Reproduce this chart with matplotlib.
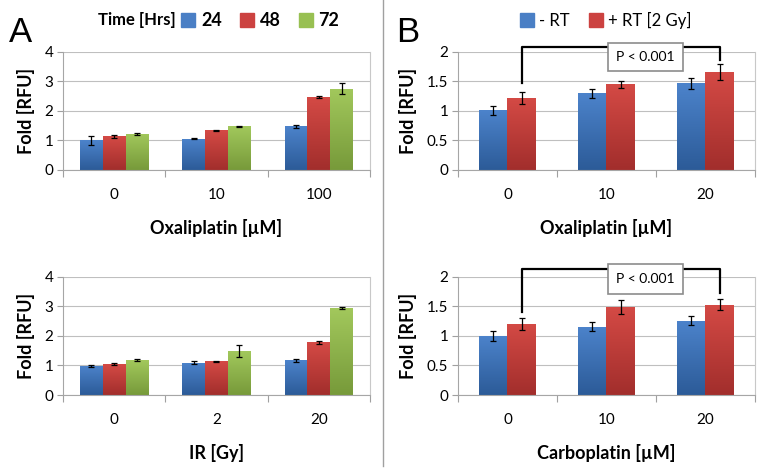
import numpy as np
import matplotlib
matplotlib.use("Agg")
import matplotlib.pyplot as plt
from matplotlib.colors import LinearSegmentedColormap
from matplotlib.lines import Line2D
from matplotlib.patches import Rectangle

plt.rcParams['font.family'] = ['Lato', 'DejaVu Sans']

# Panel A data (time series 24/48/72 h)
time_labels = ['24', '48', '72']
oxa_doses = ['0', '10', '100']
oxa_vals = [[1.00, 1.06, 1.48],
            [1.14, 1.35, 2.47],
            [1.23, 1.48, 2.76]]
oxa_errs = [[0.15, 0.02, 0.04],
            [0.05, 0.02, 0.04],
            [0.03, 0.02, 0.19]]
ir_doses = ['0', '2', '20']
ir_vals = [[0.99, 1.10, 1.17],
           [1.04, 1.14, 1.78],
           [1.18, 1.49, 2.94]]
ir_errs = [[0.04, 0.04, 0.04],
           [0.03, 0.02, 0.04],
           [0.04, 0.19, 0.04]]

# Panel B data (-RT / +RT)
rt_labels = ['- RT', '+ RT [2 Gy]']
oxa2_doses = ['0', '10', '20']
oxa2_vals = [[1.01, 1.30, 1.47],
             [1.22, 1.45, 1.66]]
oxa2_errs = [[0.07, 0.08, 0.09],
             [0.10, 0.06, 0.13]]
carbo_doses = ['0', '10', '20']
carbo_vals = [[1.00, 1.16, 1.26],
              [1.21, 1.49, 1.53]]
carbo_errs = [[0.08, 0.07, 0.08],
              [0.10, 0.12, 0.09]]

# gradient colours (bottom, top)
grads = [('#2c5b98', '#4c83cb'), ('#a22e2c', '#d44a45'), ('#779a3a', '#a2c85c')]
solid = ['#4a7fc5', '#cc4240', '#98c052']


def grad_bars(ax, x, h, w, cidx):
    bars = ax.bar(x, h, w, color=solid[cidx], zorder=2)
    cmap = LinearSegmentedColormap.from_list('g', grads[cidx])
    g = np.linspace(0, 1, 100).reshape(-1, 1)
    for b in bars:
        x0, y0 = b.get_x(), b.get_y()
        im = ax.imshow(g, cmap=cmap, origin='lower', aspect='auto',
                       extent=[x0, x0 + b.get_width(), y0, y0 + b.get_height()],
                       zorder=2.1)
        im.set_clip_path(b)
    return bars


def style_axes(ax, ymax, yticks, cats, xlabel):
    ax.set_xlim(-0.5, 2.5)
    ax.set_ylim(0, ymax)
    ax.set_yticks(yticks)
    ax.set_yticklabels([('%g' % t) for t in yticks], fontsize=11)
    ax.set_xticks([0, 1, 2])
    ax.set_xticklabels(cats, fontsize=11)
    ax.set_xticks([-0.5, 0.5, 1.5, 2.5], minor=True)
    ax.tick_params(axis='x', which='major', length=0, pad=13)
    ax.tick_params(axis='x', which='minor', length=5, color='#a0a0a0', width=0.8)
    ax.tick_params(axis='y', length=4, color='#a0a0a0', width=0.8, pad=3)
    ax.grid(axis='y', color='#bfbfbf', lw=0.8, zorder=0)
    ax.set_axisbelow(True)
    for s in ['left', 'bottom', 'right']:
        ax.spines[s].set_color('#a6a6a6')
        ax.spines[s].set_linewidth(0.8)
    ax.spines['right'].set_color('#c8c8c8')
    ax.spines['top'].set_visible(False)
    ax.set_ylabel('Fold [RFU]', fontsize=13, fontweight='bold', labelpad=7)
    ax.set_xlabel(xlabel, fontsize=13, fontweight='bold', labelpad=12)


def panel_a(ax, cats, vals, errs, xlabel):
    w = 0.222
    x = np.arange(3)
    for i in range(3):
        xi = x + (i - 1) * w
        grad_bars(ax, xi, vals[i], w, i)
        ax.errorbar(xi, vals[i], yerr=errs[i], fmt='none', ecolor='black',
                    elinewidth=0.9, capsize=2.5, capthick=0.9, zorder=3)
    style_axes(ax, 4, [0, 1, 2, 3, 4], cats, xlabel)


def panel_b(ax, cats, vals, errs, xlabel, br):
    w = 0.286
    x = np.arange(3)
    for i in range(2):
        xi = x + (i - 0.5) * w
        grad_bars(ax, xi, vals[i], w, i)
        ax.errorbar(xi, vals[i], yerr=errs[i], fmt='none', ecolor='black',
                    elinewidth=0.9, capsize=2.5, capthick=0.9, zorder=3)
    style_axes(ax, 2, [0, 0.5, 1, 1.5, 2], cats, xlabel)
    lx, rx = 0 + 0.5 * w, 2 + 0.5 * w
    top, lb, rb, bx0, bx1, by0, by1 = br
    ax.plot([lx, lx, rx, rx], [lb, top, top, rb], color='black', lw=1.6,
            clip_on=False, zorder=4)
    ax.add_patch(Rectangle((bx0, by0), bx1 - bx0, by1 - by0, facecolor='white',
                           edgecolor='#8c8c8c', lw=1.2, clip_on=False, zorder=5))
    ax.text((bx0 + bx1) / 2, (by0 + by1) / 2, 'P < 0.001', ha='center',
            va='center', fontsize=10, zorder=6)


fig = plt.figure(figsize=(7.7, 4.73), dpi=100)

axA1 = fig.add_axes([0.0818, 0.6406, 0.3987, 0.2495])
axA2 = fig.add_axes([0.0818, 0.1649, 0.3987, 0.2495])
axB1 = fig.add_axes([0.5948, 0.6406, 0.3857, 0.2495])
axB2 = fig.add_axes([0.5948, 0.1649, 0.3857, 0.2495])

panel_a(axA1, oxa_doses, oxa_vals, oxa_errs, 'Oxaliplatin [µM]')
panel_a(axA2, ir_doses, ir_vals, ir_errs, 'IR [Gy]')
panel_b(axB1, oxa2_doses, oxa2_vals, oxa2_errs, 'Oxaliplatin [µM]',
        (2.085, 1.47, 1.87, 1.02, 1.77, 1.68, 2.15))
panel_b(axB2, carbo_doses, carbo_vals, carbo_errs, 'Carboplatin [µM]',
        (2.14, 1.41, 1.73, 1.02, 1.77, 1.71, 2.22))

# panel letters
fig.text(0.012, 0.912, 'A', fontsize=25, family='Liberation Sans')
fig.text(0.515, 0.912, 'B', fontsize=25, family='Liberation Sans')

# separator
fig.add_artist(Line2D([0.4975, 0.4975], [0.015, 1.0], color='#a0a0a0', lw=1))

# legend A
fig.text(0.178, 0.957, 'Time [Hrs]', fontsize=12, fontweight='bold',
         ha='center', va='center')
hA = [Line2D([], [], marker='s', ls='none', markersize=10, color=c) for c in solid]
fig.legend(hA, time_labels, loc='center', bbox_to_anchor=(0.338, 0.957),
           ncol=3, frameon=False, prop={'weight': 'bold', 'size': 13},
           handlelength=0.8, handletextpad=0.3, columnspacing=1.0)

# legend B
hB = [Line2D([], [], marker='s', ls='none', markersize=10, color=c) for c in solid[:2]]
fig.legend(hB, rt_labels, loc='center', bbox_to_anchor=(0.787, 0.957),
           ncol=2, frameon=False, prop={'size': 12},
           handlelength=0.8, handletextpad=0.3, columnspacing=1.2)

fig.savefig('out.png', dpi=100)
